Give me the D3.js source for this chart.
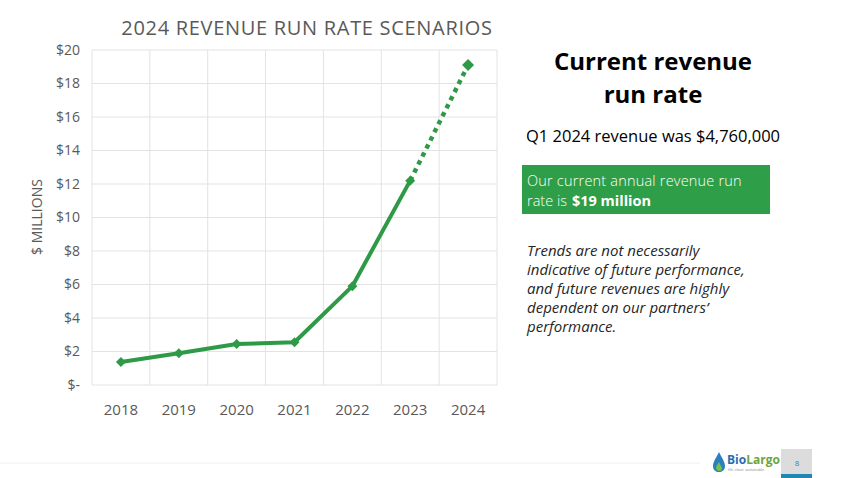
<!DOCTYPE html>
<html><head><meta charset="utf-8">
<script src="https://cdn.jsdelivr.net/npm/d3@7"></script>
<style>
body{margin:0;background:#fff;}
svg{display:block;}
</style></head>
<body>
<svg id="c" width="850" height="478"></svg>
<script>
const years = ["2018","2019","2020","2021","2022","2023","2024"];
const revenue = [1.37, 1.9, 2.45, 2.55, 5.9, 12.2, 19.1];
const yTicks = [0,2,4,6,8,10,12,14,16,18,20];
const yTickLabels = ["$-","$2","$4","$6","$8","$10","$12","$14","$16","$18","$20"];
const chartTitle = "2024 REVENUE RUN RATE SCENARIOS";
const yTitle = "$ MILLIONS";
const noteLines = ["Trends are not necessarily","indicative of future performance,","and future revenues are highly","dependent on our partners’","performance."];

const svg = d3.select("#c");
const font = "'Open Sans', 'Noto Sans', sans-serif";
const gray = "#595959";
const green = "#2E9A47";

const x = d3.scaleBand().domain(years).range([92, 497]).padding(0);
const y = d3.scaleLinear().domain([0,20]).range([385, 50]);

// grid
const g = svg.append("g");
g.selectAll(".hg").data(yTicks).join("line")
  .attr("x1",92).attr("x2",497).attr("y1",d=>y(d)).attr("y2",d=>y(d))
  .attr("stroke","#e3e3e3").attr("stroke-width",1);
const vEdges = years.map(d=>x(d)).concat([x.range()[1]]);
g.selectAll(".vg").data(vEdges).join("line")
  .attr("x1",d=>d).attr("x2",d=>d).attr("y1",y(20)).attr("y2",y(0))
  .attr("stroke","#e3e3e3").attr("stroke-width",1);

// y labels
g.selectAll(".yl").data(yTicks).join("text")
  .attr("x",80).attr("y",d=>y(d)).attr("dy","0.35em")
  .attr("text-anchor","end").attr("font-family",font).attr("font-size",14)
  .attr("fill",gray).text((d,i)=>yTickLabels[i]);

// x labels
g.selectAll(".xl").data(years).join("text")
  .attr("x",d=>x(d)+x.bandwidth()/2).attr("y",410).attr("dy","0.35em")
  .attr("text-anchor","middle").attr("font-family",font).attr("font-size",15)
  .attr("fill",gray).text(d=>d);

// title
svg.append("text").attr("x",307).attr("y",28).attr("dy","0.35em")
  .attr("text-anchor","middle").attr("font-family",font).attr("font-size",20)
  .attr("fill",gray).attr("letter-spacing","0.7").text(chartTitle);

// y title
svg.append("text").attr("transform","translate(37,217) rotate(-90)")
  .attr("dy","0.35em").attr("text-anchor","middle").attr("font-family",font)
  .attr("font-size",14).attr("fill",gray).text(yTitle);

const pts = years.map((yr,i)=>({yr, v:revenue[i]}));
const line = d3.line().x(d=>x(d.yr)+x.bandwidth()/2).y(d=>y(d.v));
svg.append("path").datum(pts.slice(0,6)).attr("d",line)
  .attr("fill","none").attr("stroke",green).attr("stroke-width",4).attr("stroke-linejoin","round");
svg.append("path").datum(pts.slice(5)).attr("d",line)
  .attr("fill","none").attr("stroke",green).attr("stroke-width",4.5).attr("stroke-dasharray","4.5,4.5");
svg.selectAll(".mk").data(pts).join("path")
  .attr("transform",d=>`translate(${x(d.yr)+x.bandwidth()/2},${y(d.v)}) rotate(45)`)
  .attr("d",(d,i)=> d3.symbol().type(d3.symbolSquare).size(i===6 ? 72 : 50)())
  .attr("fill",green);

// right panel
const rp = svg.append("g").attr("font-family",font);
rp.append("text").attr("x",653).attr("y",62).attr("dy","0.35em").attr("text-anchor","middle")
  .attr("font-size",24).attr("font-weight","bold").attr("fill","#000").text("Current revenue");
rp.append("text").attr("x",653).attr("y",95).attr("dy","0.35em").attr("text-anchor","middle")
  .attr("font-size",24).attr("font-weight","bold").attr("fill","#000").text("run rate");
rp.append("text").attr("x",526).attr("y",136).attr("dy","0.35em")
  .attr("font-size",16.5).attr("fill","#000").text("Q1 2024 revenue was $4,760,000");
rp.append("rect").attr("x",522).attr("y",165).attr("width",248).attr("height",49).attr("fill","#2E9E48");
rp.append("text").attr("x",527).attr("y",180.5).attr("dy","0.35em").attr("font-size",14.5)
  .attr("font-weight",300).attr("fill","#fff").attr("letter-spacing","0.2").text("Our current annual revenue run");
const t2a = rp.append("text").attr("x",527).attr("y",201).attr("dy","0.35em").attr("font-size",14.5)
  .attr("font-weight",300).attr("fill","#fff").text("rate is");
const w2 = t2a.node().getComputedTextLength();
rp.append("text").attr("x",527 + w2 + 5).attr("y",201).attr("dy","0.35em").attr("font-size",14.5)
  .attr("font-weight","bold").attr("fill","#fff").text("$19 million");

rp.selectAll(".note").data(noteLines).join("text")
  .attr("x",527).attr("y",(d,i)=>251+i*19).attr("dy","0.35em")
  .attr("font-size",15).attr("font-style","italic").attr("fill","#262626").text(d=>d);

// footer
svg.append("line").attr("x1",0).attr("x2",700).attr("y1",463).attr("y2",463)
  .attr("stroke","#eeeeee").attr("stroke-width",1);
const logo = svg.append("g");
logo.append("path").attr("d","M719,452 C716,458 713,462 713,466 C713,470 716,472 719,472 C722,472 725,470 725,466 C725,462 722,458 719,452 Z").attr("fill","#2a7fc1");
logo.append("path").attr("d","M719,462 C717,465 716,467 716,468 C716,470 718,471 719,471 C721,471 722,470 722,468 Z").attr("fill","#7ac143");
const lt = logo.append("text").attr("x",727).attr("y",464).attr("font-family",font).attr("font-size",12)
  .attr("font-weight","bold").attr("fill","#2a6db0");
lt.append("tspan").text("Bio");
lt.append("tspan").attr("fill","#6aa53c").text("Largo");
logo.append("text").attr("x",728).attr("y",471).attr("font-family",font).attr("font-size",3.5)
  .attr("fill","#888").text("life. clean. sustainable.");
svg.append("rect").attr("x",781).attr("y",449).attr("width",31).attr("height",25).attr("fill","#dcdcdc");
svg.append("rect").attr("x",781).attr("y",474).attr("width",31).attr("height",4).attr("fill","#1e88b4");
svg.append("text").attr("x",797).attr("y",463).attr("dy","0.35em").attr("text-anchor","middle")
  .attr("font-family",font).attr("font-size",8).attr("fill","#1e88b4").text("8");
</script>
</body></html>
